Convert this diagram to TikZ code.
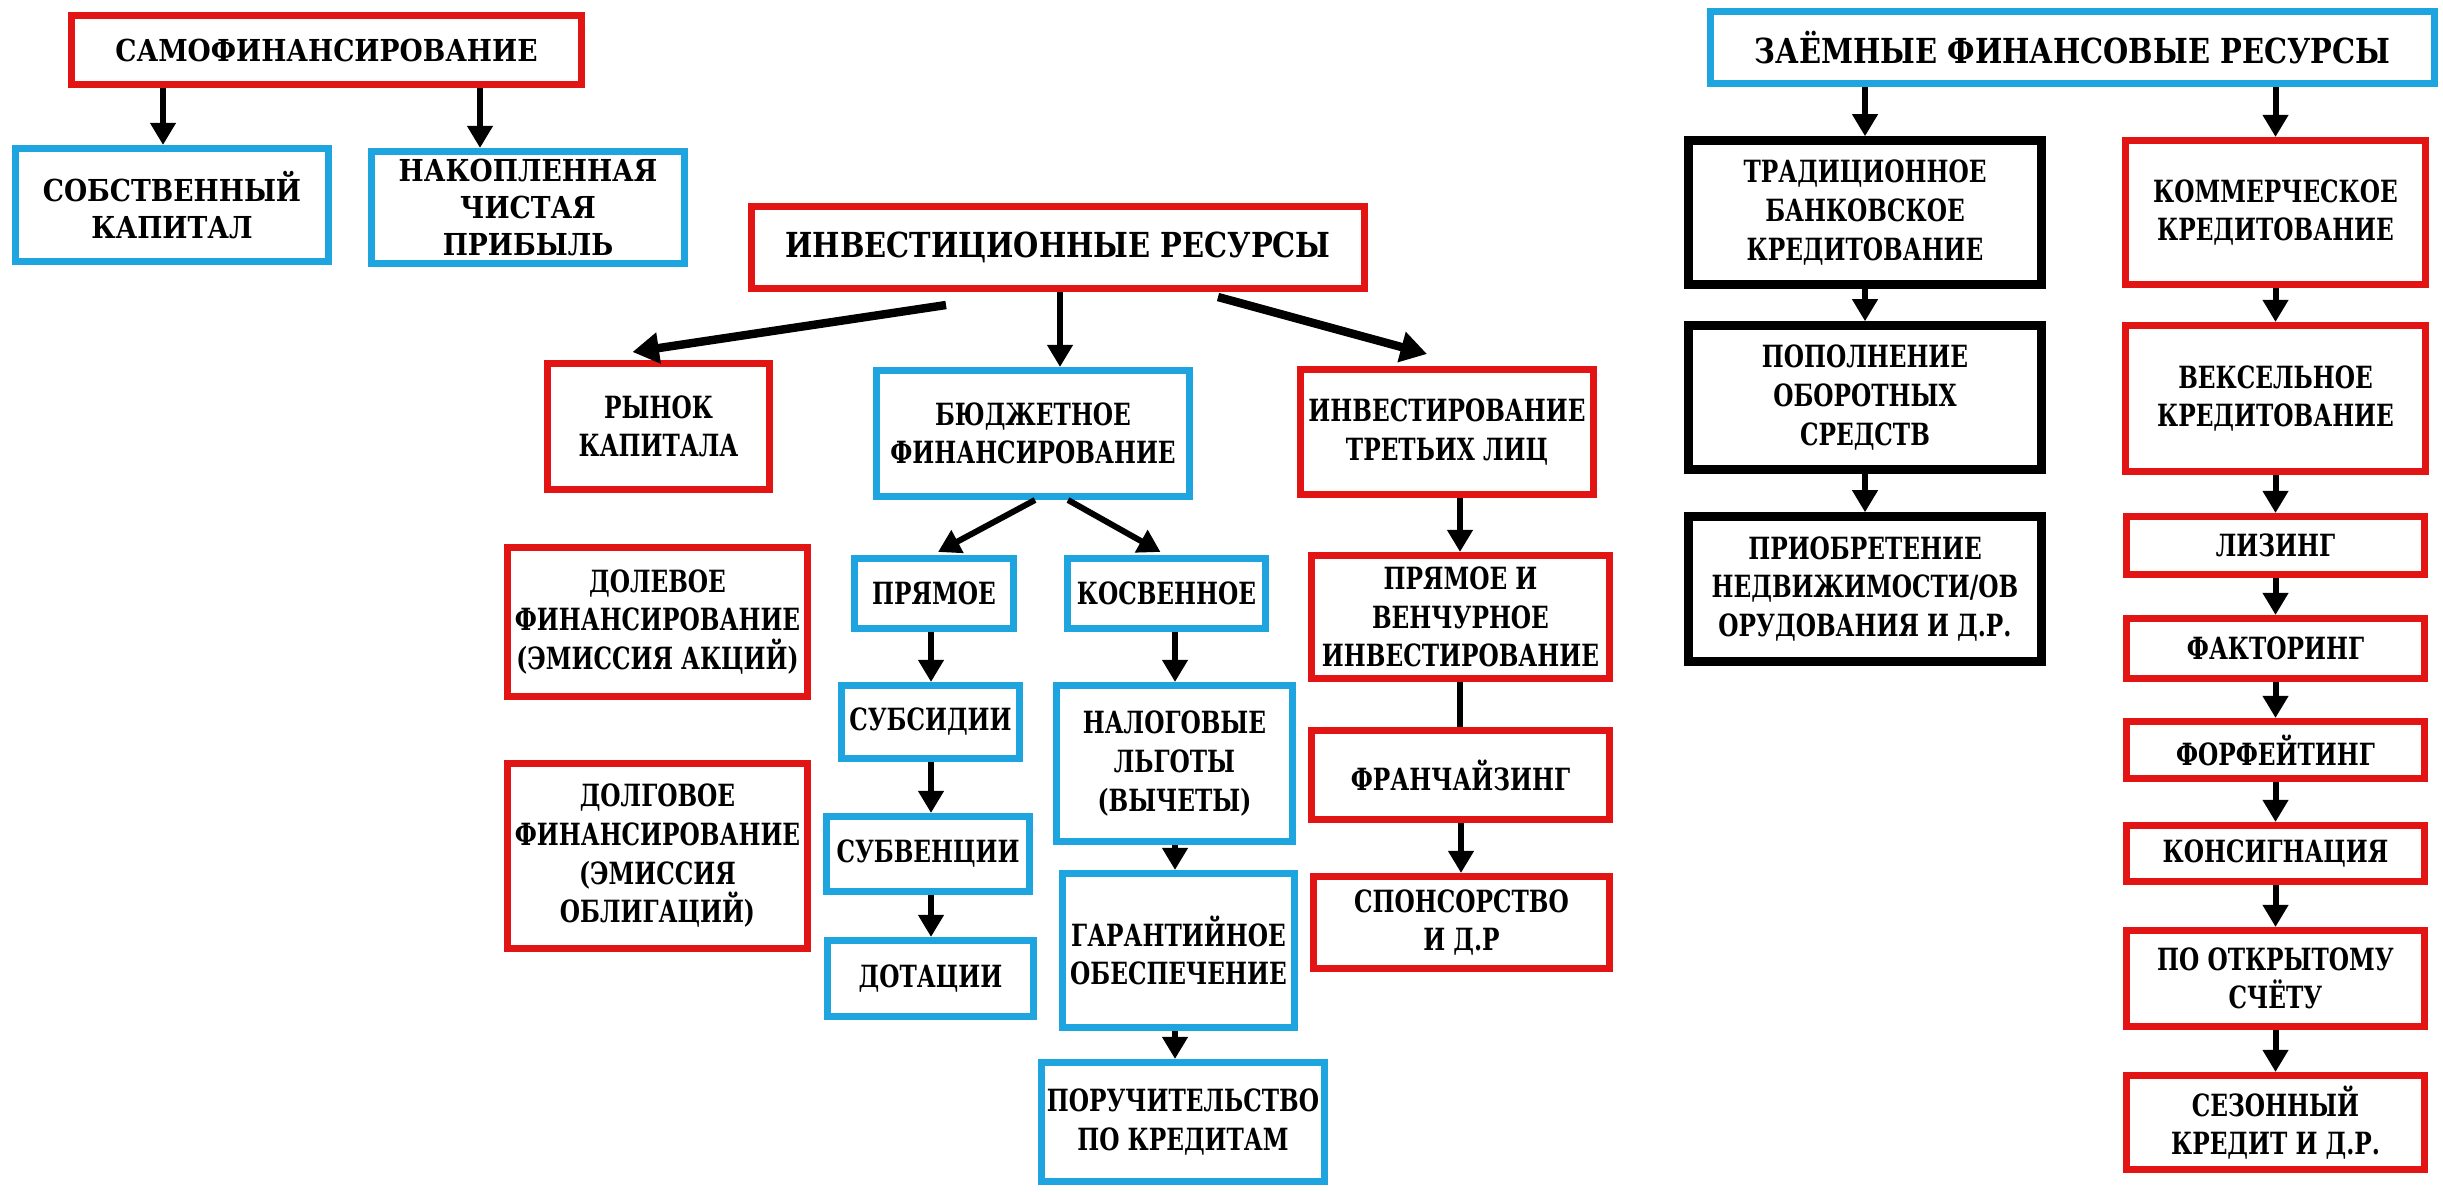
\documentclass[tikz,border=0pt]{standalone}
\usepackage{fontspec}
\setmainfont{DejaVu Serif}
\newfontfamily\condserif{DejaVu Serif}[FakeStretch=0.76]
\newfontfamily\wideserif{DejaVu Serif}[FakeStretch=0.88]
\newfontfamily\titleserif{DejaVu Serif}[FakeStretch=0.84]
\usepackage{tikz}
\usetikzlibrary{arrows.meta,calc}
\definecolor{boxred}{RGB}{226,20,20}
\definecolor{boxblue}{RGB}{30,164,222}

\begin{document}
\begin{tikzpicture}[x=0.01cm, y=-0.01cm,
		box/.style={draw, line width=2pt, fill=white, inner sep=0pt, align=center, font=\condserif\bfseries\fontsize{8.7}{11}\selectfont},
		redbox/.style={box, draw=boxred},
		bluebox/.style={box, draw=boxblue},
		blackbox/.style={box, draw=black, line width=2.4pt},
		wide/.style={font=\wideserif\bfseries\fontsize{8.6}{10.5}\selectfont},
		big/.style={font=\titleserif\bfseries\fontsize{9.8}{12}\selectfont},
		wh/.style 2 args={minimum width=#1*0.01cm, minimum height=#2*0.01cm},
		arr/.style={-{Triangle[length=6.3pt,width=7pt]}, line width=1.7pt},
		fatarr/.style={-{Triangle[length=7.5pt,width=8.5pt]}, line width=2.4pt}]
			\useasboundingbox (0,0) rectangle (2443,1191);
			
			\node[redbox, wide, wh={510}{69}] (samo) at (326.5,50) {САМОФИНАНСИРОВАНИЕ};
			\node[bluebox, wide, wh={313}{113}] (sobst) at (172,205) {СОБСТВЕННЫЙ\\КАПИТАЛ};
			\node[bluebox, wide, wh={313}{112}] (nakop) at (528,207.5) {НАКОПЛЕННАЯ\\ЧИСТАЯ\\ПРИБЫЛЬ};
			
			\node[redbox, big, wh={613}{82}] (invres) at (1058,247.5) {ИНВЕСТИЦИОННЫЕ РЕСУРСЫ};
			\node[redbox, wh={222}{126}] (rynok) at (658.5,426.5) {РЫНОК\\КАПИТАЛА};
			\node[bluebox, wh={313}{126}] (budget) at (1033,433.5) {БЮДЖЕТНОЕ\\ФИНАНСИРОВАНИЕ};
			\node[redbox, wh={293}{125}] (third) at (1447,432) {ИНВЕСТИРОВАНИЕ\\ТРЕТЬИХ ЛИЦ};
			\node[redbox, wh={300}{149}] (dolevoe) at (657.5,622) {ДОЛЕВОЕ\\ФИНАНСИРОВАНИЕ\\(ЭМИССИЯ АКЦИЙ)};
			\node[redbox, wh={300}{185}] (dolgovoe) at (657.5,856) {ДОЛГОВОЕ\\ФИНАНСИРОВАНИЕ\\(ЭМИССИЯ\\ОБЛИГАЦИЙ)};
			\node[bluebox, wh={159}{70}] (pryamoe) at (934,593.5) {ПРЯМОЕ};
			\node[bluebox, wh={198}{70}] (kosv) at (1166.5,593.5) {КОСВЕННОЕ};
			\node[bluebox, wh={178}{73}] (subsid) at (930.5,722) {СУБСИДИИ};
			\node[bluebox, wh={203}{75}] (subv) at (928,854) {СУБВЕНЦИИ};
			\node[bluebox, wh={206}{76}] (dotac) at (930.5,978.5) {ДОТАЦИИ};
			\node[bluebox, wh={236}{156}] (nalog) at (1174.5,763.5) {НАЛОГОВЫЕ\\ЛЬГОТЫ\\(ВЫЧЕТЫ)};
			\node[bluebox, wh={232}{154}] (garant) at (1178.5,950.5) {ГАРАНТИЙНОЕ\\ОБЕСПЕЧЕНИЕ};
			\node[bluebox, wh={283}{119}] (poruch) at (1183,1122) {ПОРУЧИТЕЛЬСТВО\\ПО КРЕДИТАМ};
			\node[redbox, wh={298}{123}] (venture) at (1460.5,617) {ПРЯМОЕ И\\ВЕНЧУРНОЕ\\ИНВЕСТИРОВАНИЕ};
			\node[redbox, wh={298}{89}] (franch) at (1460.5,775) {ФРАНЧАЙЗИНГ};
			\node[redbox, wh={296}{92}] (sponsor) at (1461.5,922.5) {СПОНСОРСТВО\\И Д.Р};
			
			\node[bluebox, big, wh={724}{72}] (zaem) at (2072.5,47.5) {ЗАЁМНЫЕ ФИНАНСОВЫЕ РЕСУРСЫ};
			\node[blackbox, wh={353}{144}] (trad) at (1865,212.5) {ТРАДИЦИОННОЕ\\БАНКОВСКОЕ\\КРЕДИТОВАНИЕ};
			\node[blackbox, wh={353}{144}] (popoln) at (1865,397.5) {ПОПОЛНЕНИЕ\\ОБОРОТНЫХ\\СРЕДСТВ};
			\node[blackbox, wh={353}{145}] (priobr) at (1865,589) {ПРИОБРЕТЕНИЕ\\НЕДВИЖИМОСТИ/ОВ\\ОРУДОВАНИЯ И Д.Р.};
			\node[redbox, wh={300}{144}] (komm) at (2275.5,212.5) {КОММЕРЧЕСКОЕ\\КРЕДИТОВАНИЕ};
			\node[redbox, wh={300}{146}] (veksel) at (2275.5,398.5) {ВЕКСЕЛЬНОЕ\\КРЕДИТОВАНИЕ};
			\node[redbox, wh={298}{58}] (lizing) at (2275.5,545.5) {ЛИЗИНГ};
			\node[redbox, wh={298}{60}] (faktor) at (2275.5,648.5) {ФАКТОРИНГ};
			\node[redbox, wh={298}{57}] (forf) at (2275.5,750) {ФОРФЕЙТИНГ};
			\node[redbox, wh={298}{56}] (konsig) at (2275.5,853.5) {КОНСИГНАЦИЯ};
			\node[redbox, wh={298}{96}] (poopen) at (2275.5,978.5) {ПО ОТКРЫТОМУ\\СЧЁТУ};
			\node[redbox, wh={298}{94}] (sezon) at (2275.5,1122.5) {СЕЗОННЫЙ\\КРЕДИТ И Д.Р.};
			
			\draw[arr] (samo.south -| 163,0) -- (sobst.north -| 163,0);
			\draw[arr] (samo.south -| 480,0) -- (nakop.north -| 480,0);
			\draw[fatarr] ($(invres.south)+(-112,13)$) -- ($(rynok.north)+(-26,-8)$);
			\draw[arr] (invres.south -| 1060,0) -- (budget.north -| 1060,0);
			\draw[fatarr] ($(invres.south)+(160,5)$) -- ($(third.north)+(-20,-12)$);
			\draw[arr] ($(budget.south)+(2,0)$) -- ($(pryamoe.north)+(4,-3)$);
			\draw[arr] ($(budget.south)+(35,0)$) -- ($(kosv.north)+(-6,-3)$);
			\draw[arr] (pryamoe.south -| 931,0) -- (subsid.north -| 931,0);
			\draw[arr] (subsid.south -| 931,0) -- (subv.north -| 931,0);
			\draw[arr] (subv.south -| 931,0) -- (dotac.north -| 931,0);
			\draw[arr] (kosv.south -| 1175,0) -- (nalog.north -| 1175,0);
			\draw[arr] (nalog.south -| 1175,0) -- (garant.north -| 1175,0);
			\draw[arr] (garant.south -| 1175,0) -- (poruch.north -| 1175,0);
			\draw[arr] (third.south -| 1460,0) -- (venture.north -| 1460,0);
			\draw[line width=1.7pt] (venture.south -| 1460,0) -- (franch.north -| 1460,0);
			\draw[arr] (franch.south -| 1461,0) -- (sponsor.north -| 1461,0);
			\draw[arr] (zaem.south -| trad.north) -- (trad.north);
			\draw[arr] (zaem.south -| komm.north) -- (komm.north);
			\foreach \a/\b in {trad/popoln, popoln/priobr, komm/veksel, veksel/lizing, lizing/faktor, faktor/forf, forf/konsig, konsig/poopen, poopen/sezon}
				\draw[arr] (\a.south) -- (\b.north);
		\end{tikzpicture}
\end{document}
